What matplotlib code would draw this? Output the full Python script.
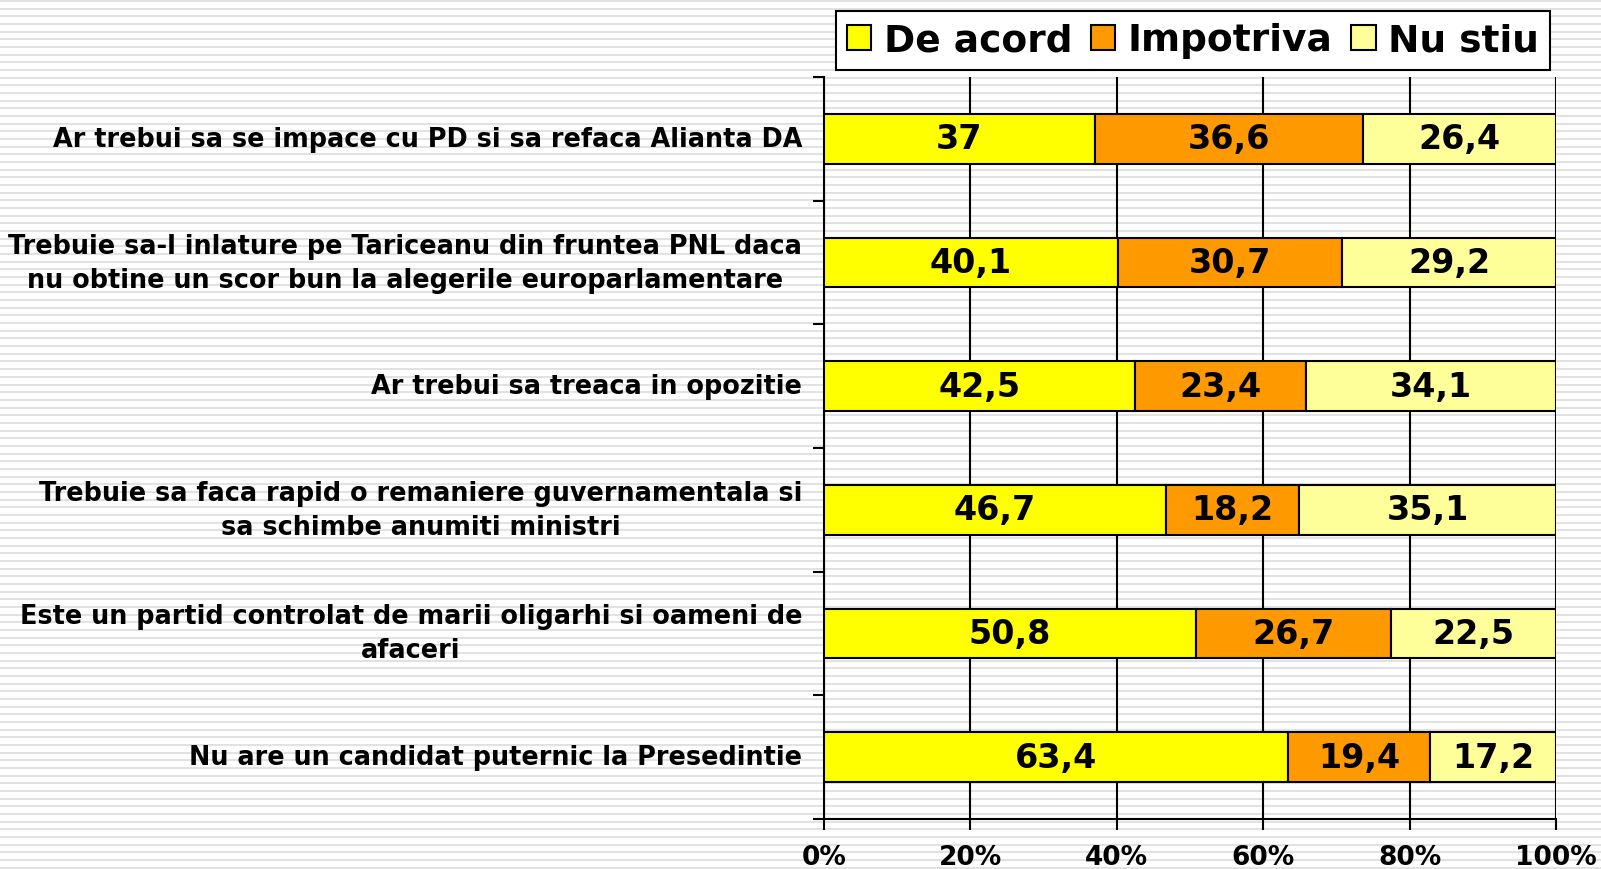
import matplotlib
matplotlib.use('Agg')
import matplotlib.pyplot as plt
from matplotlib.patches import Patch
import numpy as np

# ===== date =====
intrebari = [
    'Ar trebui sa se impace cu PD si sa refaca Alianta DA',
    'Trebuie sa-l inlature pe Tariceanu din fruntea PNL daca\nnu obtine un scor bun la alegerile europarlamentare',
    'Ar trebui sa treaca in opozitie',
    'Trebuie sa faca rapid o remaniere guvernamentala si\nsa schimbe anumiti ministri',
    'Este un partid controlat de marii oligarhi si oameni de\nafaceri',
    'Nu are un candidat puternic la Presedintie',
]
de_acord = [37, 40.1, 42.5, 46.7, 50.8, 63.4]
impotriva = [36.6, 30.7, 23.4, 18.2, 26.7, 19.4]
nu_stiu = [26.4, 29.2, 34.1, 35.1, 22.5, 17.2]
serii = ['De acord', 'Impotriva', 'Nu stiu']
culori = ['#FFFF00', '#FF9900', '#FFFF99']
x_ticks = [0, 20, 40, 60, 80, 100]

plt.rcParams['font.family'] = 'DejaVu Sans'
plt.rcParams['font.weight'] = 'bold'

W, H = 1601, 870
fig = plt.figure(figsize=(W / 100, H / 100), dpi=100)

# fundal cu dungi orizontale
bg = fig.add_axes([0, 0, 1, 1], zorder=-5)
bg.set_xlim(0, W)
bg.set_ylim(H, 0)
bg.axis('off')
for yy in np.arange(2.0, H, 7.67):
    bg.axhline(yy, color='#e2e2e2', linewidth=1.5)

ax = fig.add_axes([824 / W, 1 - 820 / H, (1556 - 824) / W, (820 - 78) / H])
ax.patch.set_alpha(0)

y = np.arange(len(intrebari))
h = 0.4
left = np.zeros(len(intrebari))
for vals, col in zip([de_acord, impotriva, nu_stiu], culori):
    vals = np.array(vals)
    ax.barh(y, vals, left=left, height=h, color=col, edgecolor='black',
            linewidth=1.5, zorder=3)
    for yi, l, v in zip(y, left, vals):
        ax.text(l + v / 2, yi, f'{v:g}'.replace('.', ','), ha='center',
                va='center', fontsize=24, fontweight='bold', zorder=4)
    left += vals

ax.set_xlim(0, 100)
ax.set_ylim(len(intrebari) - 0.5, -0.5)
ax.set_xticks(x_ticks)
ax.set_xticklabels([f'{t}%' for t in x_ticks], fontsize=19, fontweight='bold')
ax.tick_params(axis='x', length=8, width=1.5, pad=10, direction='out')
ax.xaxis.grid(True, color='black', linewidth=1.5, zorder=1)
ax.set_axisbelow(True)

ax.set_yticks(y)
ax.set_yticklabels([])
ax.tick_params(axis='y', which='major', length=0)
ax.set_yticks(np.arange(-0.5, len(intrebari)), minor=True)
ax.tick_params(axis='y', which='minor', length=8, width=1.5, direction='out')
for yi, t in zip(y, intrebari):
    ax.text(-0.03, yi, t, transform=ax.get_yaxis_transform(), ha='right',
            va='center', multialignment='center', fontsize=18.4,
            fontweight='bold', linespacing=1.4)

for s in ['top', 'right']:
    ax.spines[s].set_visible(False)
for s in ['left', 'bottom']:
    ax.spines[s].set_linewidth(1.5)

handles = [Patch(facecolor=c, edgecolor='black', linewidth=1.5) for c in culori]
leg = fig.legend(handles, serii, loc='upper right',
                 bbox_to_anchor=(1550 / W, 1 - 12 / H), ncol=3,
                 prop={'size': 27, 'weight': 'bold'}, frameon=True,
                 fancybox=False, handlelength=0.65, handleheight=0.65,
                 handletextpad=0.33, columnspacing=0.5, borderpad=0.3,
                 borderaxespad=0)
leg.get_frame().set_edgecolor('black')
leg.get_frame().set_linewidth(1.5)
leg.get_frame().set_facecolor('white')
leg.get_frame().set_alpha(1)

fig.savefig('out.png', dpi=100)
